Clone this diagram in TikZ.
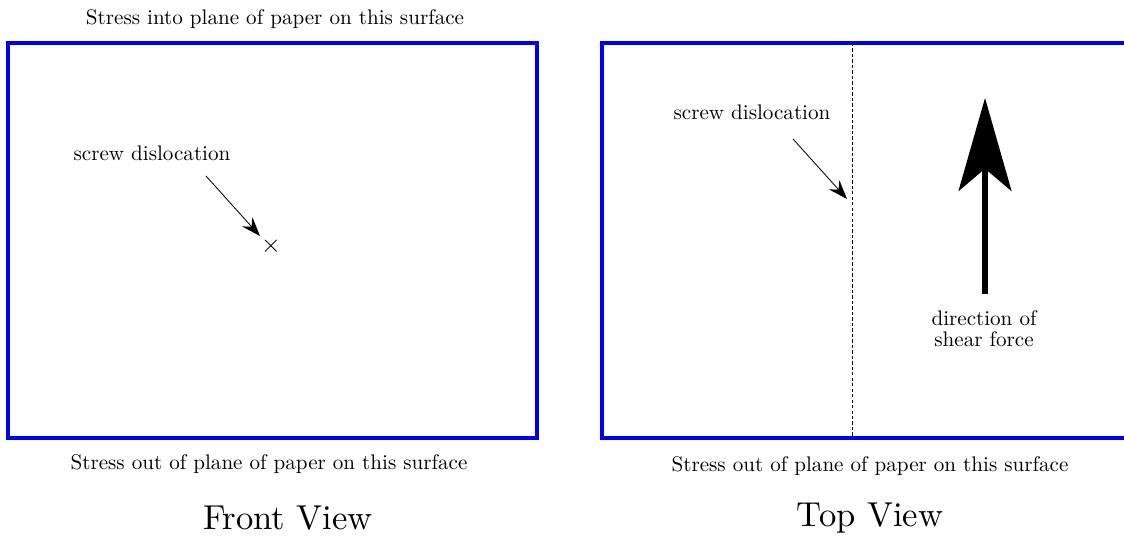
\documentclass[tikz,border=0pt]{standalone}
\usetikzlibrary{arrows.meta}

\tikzset{every picture/.style={line width=0.4pt}}
\tikzset{
  panel/.style={draw={rgb,255:red,0;green,0;blue,240},line width=1.6pt},
  label/.style={inner sep=0.75pt,align=center},
  pointer/.style={-{Stealth[length=9pt,width=6.5pt,inset=3pt]}},
}

\begin{document}
\begin{tikzpicture}[x=0.474pt,y=0.474pt,yscale=-1,xscale=1]
\clip (0,0) rectangle (1124,540);

%Shape: Rectangle [front view]
\draw [panel] (8,43) rectangle (537,438);
%Shape: Rectangle [top view, runs off the right edge]
\draw [panel] (602,43) rectangle (1140,438);
%Straight Lines [dislocation line]
\draw [dash pattern=on 1.6pt off 1pt] (852,43) -- (852,438);

% Text Node
\node [label] (topFront) at (275,19) {Stress into plane of paper on this surface};
% Text Node
\node [label] (botFront) at (269,464) {Stress out of plane of paper on this surface};
% Text Node
\node [label] (botTop) at (870,466) {Stress out of plane of paper on this surface};
% Text Node
\node [label] (front) at (288,518) {\scalebox{1.64}{Front View}};
% Text Node
\node [label] (top) at (870,518) {\scalebox{1.64}{Top View}};

% Text Node
\node [label] (screwFront) at (152,153) {screw dislocation};
% Text Node
\node [inner sep=0pt,font=\large] (cross) at (271,246) {$\times$};
\coordinate (tailFront) at (206,176);
\coordinate (tipFront) at (260,236);
\draw [pointer] (tailFront) -- (tipFront);

% Text Node
\node [label] (screwTop) at (752,112) {screw dislocation};
\coordinate (tailTop) at (793,139);
\coordinate (tipTop) at (847,199);
\draw [pointer] (tailTop) -- (tipTop);

% Text Node
\node [label] (shear) at (984,329) {direction of\\[-2pt]shear force};
\coordinate (forceTail) at (985,294);
\coordinate (forceTip) at (985,98);
\draw [line width=2.8pt,-{Stealth[length=44pt,width=25pt,inset=10.5pt]}] (forceTail) -- (forceTip);

\end{tikzpicture}
\end{document}
